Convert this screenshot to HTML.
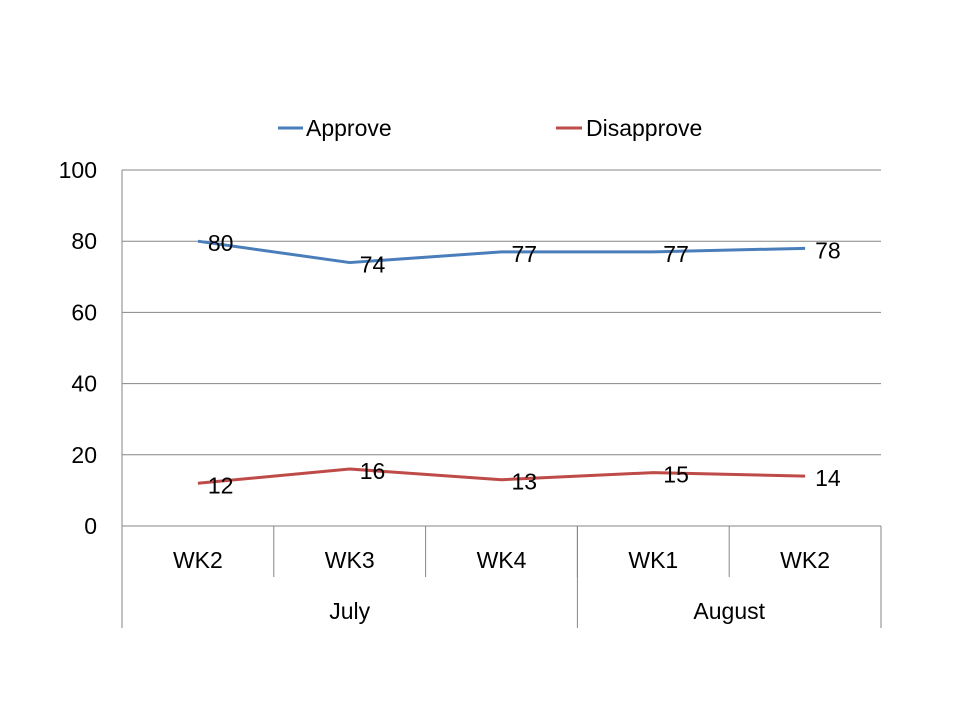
<!DOCTYPE html>
<html><head><meta charset="utf-8"><style>
html,body{margin:0;padding:0;background:#fff;}
svg text{font-family:"Liberation Sans",sans-serif;fill:#000;}
</style></head><body>
<svg id="chart" width="960" height="720" viewBox="0 0 960 720">
<g id="grid"></g><g id="axes"></g><g id="series"></g>
<g>
 <g>
  <line x1="278" y1="128" x2="303" y2="128" stroke="#4A7EBB" stroke-width="3"/>
  <text x="306" y="136" font-size="23">Approve</text>
 </g>
 <g>
  <line x1="556" y1="128" x2="582" y2="128" stroke="#BE4B48" stroke-width="3"/>
  <text x="586" y="136" font-size="23">Disapprove</text>
 </g>
</g>
</svg>
<script>
const categories=["WK2","WK3","WK4","WK1","WK2"];
const groups=["July","August"];
const groupSpans=[3,2];
const approve=[80,74,77,77,78];
const disapprove=[12,16,13,15,14];
const yTicks=[0,20,40,60,80,100];
const NS="http://www.w3.org/2000/svg";
const L=122,R=881,T=170,B=526;
const bw=(R-L)/categories.length;
const xS=i=>L+bw*(i+0.5);
const yS=v=>B-(v/100)*(B-T);
function mk(tag,attrs,parent,txt){const e=document.createElementNS(NS,tag);for(const k in attrs)e.setAttribute(k,attrs[k]);if(txt!==undefined)e.textContent=txt;parent.appendChild(e);return e;}
const grid=document.getElementById('grid'),axes=document.getElementById('axes'),series=document.getElementById('series');
yTicks.forEach(t=>{
 const l=mk('line',{x1:L,x2:R,y1:yS(t),y2:yS(t),stroke:'#868686','stroke-width':1},grid);
 
 
 const tx=mk('text',{x:97,y:yS(t)+8,'font-size':23,'text-anchor':'end'},axes,String(t));
 
 
});
const ax=mk('line',{x1:L,x2:L,y1:T,y2:628,stroke:'#868686','stroke-width':1},axes);


categories.forEach((c,i)=>{
 const t=mk('text',{x:xS(i),y:568,'font-size':23,'text-anchor':'middle'},axes,c);
 
 
 if(i>0){const s=mk('line',{x1:L+bw*i,x2:L+bw*i,y1:B,y2:577,stroke:'#868686'},axes);
  
  }
});
let start=0;
groups.forEach((g,gi)=>{
 const end=start+groupSpans[gi];
 const t=mk('text',{x:L+bw*(start+end)/2,y:619,'font-size':23,'text-anchor':'middle'},axes,g);
 
 
 const s=mk('line',{x1:L+bw*end,x2:L+bw*end,y1:B,y2:628,stroke:'#868686'},axes);
 
 
 start=end;
});
function drawSeries(vals,color,name){
 const p=mk('polyline',{points:vals.map((v,i)=>xS(i)+','+yS(v)).join(' '),fill:'none',stroke:color,'stroke-width':3,'stroke-linejoin':'round'},series);
 
 
 vals.forEach((v,i)=>{
  const t=mk('text',{x:xS(i)+10,y:yS(v)+10,'font-size':23},series,String(v));
  
  
 });
}
drawSeries(approve,'#4A7EBB','approve');
drawSeries(disapprove,'#BE4B48','disapprove');
</script>
</body></html>
